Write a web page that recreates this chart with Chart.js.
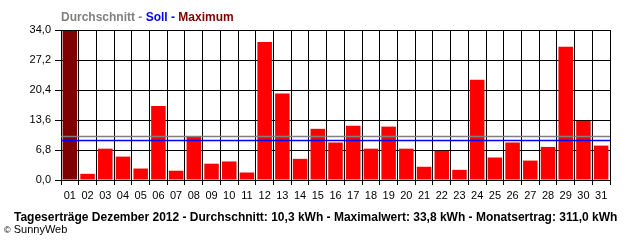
<!DOCTYPE html>
<html>
<head>
<meta charset="utf-8">
<script src="https://cdn.jsdelivr.net/npm/chart.js@4/dist/chart.umd.min.js"></script>
<style>
  html, body { margin: 0; padding: 0; background: #fff; }
  #wrap { position: relative; width: 640px; height: 240px; overflow: hidden; font-family: "Liberation Sans", Arial, sans-serif; }
  #c { position: absolute; left: 0; top: 0; }
  .txt { position: absolute; white-space: nowrap; line-height: 14px; }
  #title { left: 61px; top: 10px; font-size: 12px; font-weight: bold; }
  #footer { left: 14px; top: 210px; font-size: 12px; font-weight: bold; color: #000; }
  #copy { left: 4px; top: 222px; font-size: 11px; color: #000; }
</style>
</head>
<body>
<div id="wrap">
  <canvas id="c" width="640" height="240"></canvas>
  <div id="title" class="txt"><span style="color:#808080">Durchschnitt - </span><span style="color:#0000ff">Soll - </span><span style="color:#800000">Maximum</span></div>
  <div id="footer" class="txt">Tageserträge Dezember 2012 - Durchschnitt: 10,3 kWh - Maximalwert: 33,8 kWh - Monatsertrag: 311,0 kWh</div>
  <div id="copy" class="txt"><span style="font-size:9px">©</span> SunnyWeb</div>
</div>
<script>
const days = ["01","02","03","04","05","06","07","08","09","10","11","12","13","14","15","16","17","18","19","20","21","22","23","24","25","26","27","28","29","30","31"];
const dailyYield = [33.8, 1.4, 7.1, 5.3, 2.6, 16.8, 2.1, 9.9, 3.7, 4.2, 1.7, 31.3, 19.6, 4.8, 11.6, 8.5, 12.3, 7.1, 12.1, 7.1, 3.0, 6.6, 2.3, 22.7, 5.1, 8.5, 4.4, 7.5, 30.2, 13.4, 7.8];
const yTicks = [0, 6.8, 13.6, 20.4, 27.2, 34.0];
const averageLine = 9.9;
const targetLine = 9.0;

const maxVal = Math.max(...dailyYield);
const barColors = dailyYield.map(v => v === maxVal ? '#800000' : '#ff0000');

const refLines = {
  id: 'refLines',
  afterDatasetsDraw(chart) {
    const ctx = chart.ctx, a = chart.chartArea, y = chart.scales.y;
    const draw = (val, color) => {
      const py = Math.round(y.getPixelForValue(val)) + 0.5;
      ctx.save();
      ctx.strokeStyle = color;
      ctx.lineWidth = 1.5;
      ctx.beginPath();
      ctx.moveTo(a.left, py);
      ctx.lineTo(a.right, py);
      ctx.stroke();
      ctx.restore();
    };
    draw(averageLine, '#808080');
    draw(targetLine, '#0000ff');
  }
};

new Chart(document.getElementById('c'), {
  type: 'bar',
  data: {
    labels: days,
    datasets: [{
      data: dailyYield,
      backgroundColor: barColors,
      borderWidth: 0,
      barPercentage: 0.82,
      categoryPercentage: 1.0
    }]
  },
  options: {
    responsive: false,
    animation: false,
    layout: { padding: { top: 30, right: 30, left: 0, bottom: 0 } },
    plugins: { legend: { display: false }, tooltip: { enabled: false }, title: { display: false } },
    scales: {
      x: {
        grid: { color: '#000', lineWidth: 1, offset: true, drawTicks: true, tickLength: 5, tickColor: '#000' },
        border: { display: true, color: '#000', width: 1 },
        ticks: { color: '#000', font: { family: 'Liberation Sans', size: 11 }, padding: 4, maxRotation: 0, autoSkip: false },
        afterFit: s => { s.height = 60; }
      },
      y: {
        min: 0,
        max: 34,
        afterBuildTicks: s => { s.ticks = yTicks.map(v => ({ value: v })); },
        grid: { color: '#000', lineWidth: 1, drawTicks: true, tickLength: 6, tickColor: '#000' },
        border: { display: true, color: '#000', width: 1 },
        ticks: {
          color: '#000',
          font: { family: 'Liberation Sans', size: 11 },
          padding: 4,
          callback: v => Number(v).toFixed(1).replace('.', ',')
        },
        afterFit: s => { s.width = 61; }
      }
    }
  },
  plugins: [refLines]
});
</script>
</body>
</html>
